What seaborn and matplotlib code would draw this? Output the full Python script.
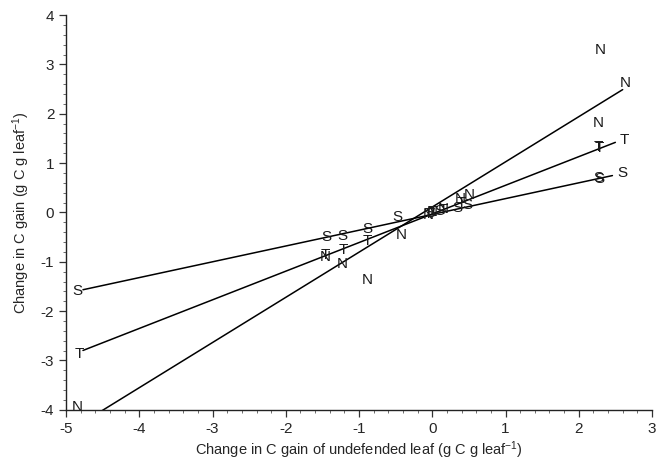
import numpy as np
import pandas as pd
import matplotlib
matplotlib.use("Agg")
import matplotlib.pyplot as plt
import seaborn as sns
from matplotlib.ticker import MultipleLocator

sns.set_theme(style="ticks")
plt.rcParams['font.family'] = ['Liberation Sans', 'DejaVu Sans']
plt.rcParams['mathtext.default'] = 'regular'
plt.rcParams['axes.unicode_minus'] = False

# letter symbols (x, y)
n_x = [2.30, 2.64, 2.27, -0.42, -1.23, -0.89, -1.46, -4.85, -0.05, 0.00, 0.15, 0.38, 0.50]
n_y = [3.30, 2.63, 1.82, -0.45, -1.05, -1.36, -0.91, -3.95, -0.05, 0.00, 0.07, 0.28, 0.35]
t_x = [2.62, 2.27, 2.28, -4.82, -1.22, -0.89, -1.46, -0.05, 0.02, 0.15, 0.40]
t_y = [1.46, 1.32, 1.31, -2.87, -0.77, -0.57, -0.86, -0.03, 0.00, 0.05, 0.20]
s_x = [2.60, 2.27, 2.28, -4.85, -1.45, -1.23, -0.89, -0.48, -0.03, 0.10, 0.35, 0.48]
s_y = [0.79, 0.69, 0.68, -1.60, -0.49, -0.48, -0.34, -0.10, -0.02, 0.03, 0.10, 0.15]

# regression lines per group
groups = ['N', 'T', 'S']
line_start = [-4.60, -4.77, -4.77]
line_end = [2.60, 2.50, 2.46]
slopes = [0.915, 0.580, 0.320]
intercepts = [0.11, -0.03, -0.04]

rows = []
for g, x0, x1, m, b in zip(groups, line_start, line_end, slopes, intercepts):
    for xv in (x0, x1):
        rows.append({'group': g, 'x': xv, 'y': m * xv + b})
lines = pd.DataFrame(rows)

fig = plt.figure(figsize=(6.68, 4.70), dpi=100)
ax = fig.add_axes([0.099, 0.128, 0.877, 0.84])

sns.lineplot(data=lines, x='x', y='y', units='group', estimator=None,
             color='black', linewidth=1.1, ax=ax, legend=False)

for letter, xs, ys in (('N', n_x, n_y), ('T', t_x, t_y), ('S', s_x, s_y)):
    for xv, yv in zip(xs, ys):
        ax.text(xv, yv, letter, ha='center', va='center', fontsize=11,
                color='#1a1a1a', clip_on=True)

ax.set_xlim(-5, 3)
ax.set_ylim(-4, 4)
ax.xaxis.set_major_locator(MultipleLocator(1))
ax.yaxis.set_major_locator(MultipleLocator(1))
ax.xaxis.set_minor_locator(MultipleLocator(0.2))
ax.yaxis.set_minor_locator(MultipleLocator(0.2))
ax.tick_params(which='major', length=5, width=0.9, labelsize=11, color='#333333')
ax.tick_params(which='minor', length=2.5, width=0.6, color='#555555')
sns.despine(ax=ax)
for sp in ('left', 'bottom'):
    ax.spines[sp].set_color('#222222')
    ax.spines[sp].set_linewidth(1.0)

ax.set_xlabel('Change in C gain of undefended leaf (g C g leaf$^{-1}$)', fontsize=10.5, labelpad=3)
ax.set_ylabel('Change in C gain (g C g leaf$^{-1}$)', fontsize=10.5, labelpad=6)

fig.savefig('out.png', dpi=100)
